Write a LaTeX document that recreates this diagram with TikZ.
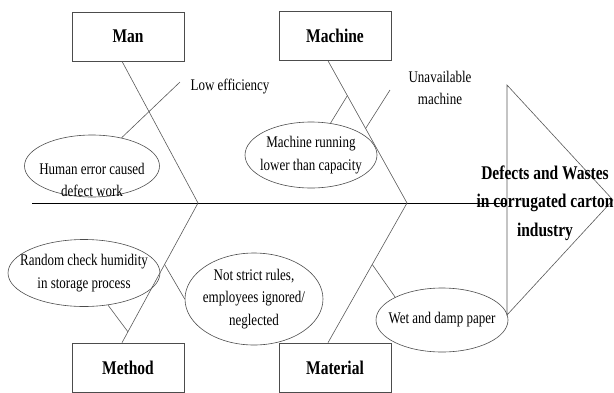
\documentclass[tikz,border=0pt]{standalone}
\usepackage{fontspec}
\setmainfont{Liberation Serif}
\usetikzlibrary{shapes.geometric}

\tikzset{
    bone/.style={draw=black!65, line width=0.6pt},
    spine/.style={draw=black, line width=1pt},
    catbox/.style={draw=black!70, line width=0.7pt, minimum width=112, minimum height=39,
        yscale=1.25, font=\bfseries\fontsize{15.5}{18}\selectfont},
    cause/.style={ellipse, draw=black!70, line width=0.6pt, inner xsep=-25pt, inner ysep=-8pt,
        yscale=1.25, align=center, font=\fontsize{13}{18}\selectfont},
    note/.style={yscale=1.25, align=center, font=\fontsize{13}{18}\selectfont},
    effect/.style={yscale=1.25, align=center, font=\bfseries\fontsize{15.5}{22.8}\selectfont}
}

\begin{document}
\begin{tikzpicture}[x=1pt, y=-1pt]
\useasboundingbox (0,0) rectangle (614,392);

% Draw category boxes
\foreach \name/\txt/\x/\y in {man/Man/128/36.5, machine/Machine/335/36,
        method/Method/128/367.5, material/Material/335/367.5}
    \node[catbox] (\name) at (\x, \y) {\txt};

% Draw causes
\node[cause, minimum width=135, minimum height=49.6] (humanerr) at (92, 166) {};
\node[note] (humantxt) at (92, 180) {Human error caused\\defect work};
\node[cause, minimum width=132, minimum height=52.8] (machrun) at (311, 155) {Machine running\\lower than capacity};
\node[cause, minimum width=152, minimum height=53.6] (randchk) at (84, 273) {Random check humidity\\in storage process};
\node[cause, minimum width=138, minimum height=73.6] (notstrict) at (254, 299) {Not strict rules,\\employees ignored/\\neglected};
\node[cause, minimum width=132, minimum height=51.2] (wet) at (442, 320) {Wet and damp paper};
\node[note] (lowtxt) at (230, 87) {Low efficiency};
\node[note] (unavtxt) at (440, 88) {Unavailable\\machine};

% Draw spine and head
\coordinate (tail) at (32, 203);
\coordinate (head) at (507, 203);
\coordinate (j1) at (198, 203);
\coordinate (j2) at (407, 203);
\draw[spine] (tail) -- (head);
\draw[bone] (507, 85) -- (613, 200) -- (507, 315) -- cycle;
\node[effect] (effect) at (545, 203) {Defects and Wastes\\in corrugated carton\\industry};

% Draw main bones
\draw[bone] ([xshift=-6pt]man.south) -- (j1);
\draw[bone] ([xshift=-7pt]machine.south) -- coordinate[pos=0.245] (mb1)
    coordinate[pos=0.476] (mb2) (j2);
\draw[bone] (j1) -- coordinate[pos=0.44] (methb1) coordinate[pos=0.922] (methb2)
    ([xshift=-6pt]method.north);
\draw[bone] (j2) -- coordinate[pos=0.44] (matb) ([xshift=-7pt]material.north);

% Draw small bones
\coordinate (lowend) at (180, 82);
\coordinate (unavend) at (390, 90);
\draw[bone] (lowend) -- (humanerr);
\draw[bone] (mb1) -- (machrun);
\draw[bone] (mb2) -- (unavend);
\draw[bone] (methb2) -- (randchk);
\draw[bone] (methb1) -- (notstrict.west);
\draw[bone] (matb) -- (wet.north west);
\end{tikzpicture}
\end{document}
